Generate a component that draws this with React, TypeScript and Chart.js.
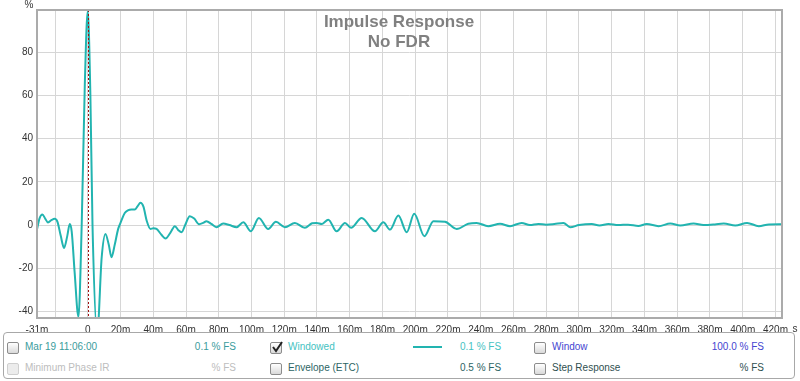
import React, { useEffect, useRef } from 'react';
import { Chart, registerables } from 'chart.js';

Chart.register(...registerables);

const FONT = '"Liberation Sans", Arial, sans-serif';
const LINE_COLOR = '#22b4b0';

const TITLE_LINES = ['Impulse Response', 'No FDR'];
const X_UNIT = 's';
const Y_UNIT = '%';

const TIMES_MS = [
  -31, -29.5, -27.7, -26, -24.3, -22, -20.2, -18.5, -16.5, -14.5, -12.5, -11, -9.8, -8, -5.7, -3.7, -1.8, 0,
  1.6, 2.9, 5.8, 8.5, 10.8, 12.8, 14.5, 16.5, 18.5, 20, 22.6, 24.5, 26.7, 28.7, 30.5, 32.2, 34, 36, 38.3, 40,
  42, 45, 47.5, 50.5, 53.2, 55.5, 57.3, 59.5, 62.3, 65, 68, 70.5, 72.5, 75.5, 78.6, 82.7, 86.5, 90.9, 95, 99.6,
  104.5, 110.2, 114.9, 120.4, 126.5, 132.6, 137, 139.8, 143, 146.9, 152, 157.1, 160.8, 167.3, 175.4, 180.5,
  184.6, 189.7, 194.8, 199.4, 205.6, 211.1, 218.2, 225.3, 232.4, 237.5, 244.6, 251.8, 257.9, 265, 270, 275.2,
  280, 285, 290.5, 294.6, 300, 307.8, 312.5, 318, 324, 330, 336.3, 341.4, 348.6, 355.8, 361.9, 370, 376, 383,
  388.4, 395.5, 402.7, 409.8, 416, 424,
];
const IMPULSE_PCT = [
  -2, 3, 4.9, 3, 1.2, 2.4, 2.9, 1.5, -5, -10.6, -5, 0.5, -3, -22, -42.5, 0, 65, 99,
  60, 0, -50, -15, -4.1, -9, -14.9, -9, -2, 1, 5.6, 6.8, 7.2, 7.2, 8.8, 10.3, 8.5, 2, -1.8, -1.5,
  -1.8, -4.5, -6.2, -3.5, -0.5, -2.5, -3.3, 0, 4.1, 3, 0.4, 1, 1.8, 0.5, -1, 0.7, 0, -1, 1.3, -2.9,
  3.3, -1.8, 1.5, -1, 1, -1.3, 0.8, 1, 0.5, 2.5, -2.9, 1, -1.3, 3.3, -2.9, 1.3,
  -2.1, 4.4, -3.3, 5.2, -5.2, 1.8, 1.5, -1.8, 0.6, 1, -0.5, 0.6, -0.5, 1, 0, 0.5,
  0.2, 0.5, 1, -1, 0, 0.5, -0.2, 0.5, 0, 0.2, -0.4, 0.5, -0.5, 0.7, -0.2, 0.7, 0, 0.3,
  0.7, -0.2, 1, -0.5, 0.3, 0.4,
];

const X_MIN = -31;
const X_MAX = 424;
const Y_MIN = -43;
const Y_MAX = 99.5;
const X_TICKS = [-31, -20, 0, 20, 40, 60, 80, 100, 120, 140, 160, 180, 200, 220, 240, 260, 280, 300, 320, 340, 360, 380, 400, 420];
const Y_TICKS = [-40, -20, 0, 20, 40, 60, 80];

const xLabel = (v: number) => (v === -20 ? '' : v === 0 ? '0' : `${v}m`);

const decor = {
  id: 'decor',
  afterDatasetsDraw(chart: any) {
    const { ctx, chartArea: a, scales } = chart;
    const x0 = scales.x.getPixelForValue(0);
    ctx.save();
    ctx.strokeStyle = '#a01010';
    ctx.lineWidth = 1;
    ctx.setLineDash([2, 2]);
    ctx.beginPath();
    ctx.moveTo(Math.round(x0) + 0.5, a.top);
    ctx.lineTo(Math.round(x0) + 0.5, a.bottom);
    ctx.stroke();
    ctx.setLineDash([]);
    ctx.strokeStyle = '#ababab';
    ctx.lineWidth = 2;
    ctx.strokeRect(a.left, a.top, a.right - a.left, a.bottom - a.top);
    ctx.fillStyle = '#808080';
    ctx.font = `bold 17px ${FONT}`;
    ctx.textAlign = 'center';
    ctx.textBaseline = 'alphabetic';
    ctx.fillText(TITLE_LINES[0], 399, 27);
    ctx.fillText(TITLE_LINES[1], 399, 46.5);
    ctx.fillStyle = '#333';
    ctx.font = `10px ${FONT}`;
    ctx.fillText(Y_UNIT, 29, 7.5);
    ctx.textBaseline = 'middle';
    ctx.fillText(X_UNIT, 795, 329.5);
    ctx.restore();
  },
};

const Box = ({ x, y, checked, disabled }: { x: number; y: number; checked?: boolean; disabled?: boolean }) => (
  <span
    style={{
      position: 'absolute', left: x, top: y, width: 10, height: 10,
      border: `1px solid ${disabled ? '#cfcfcf' : '#8c8c8c'}`, borderRadius: 2,
      background: disabled ? '#ececec' : 'linear-gradient(#ffffff, #d9d9d9)',
    }}
  >
    {checked ? (
      <svg width="12" height="12" style={{ position: 'absolute', left: 0, top: -2 }}>
        <path d="M2 6 L5 10 L11 1" stroke="#222" strokeWidth="2" fill="none" />
      </svg>
    ) : null}
  </span>
);

const Txt = ({ x, right, y, color, children }: any) => (
  <div
    style={{
      position: 'absolute', top: y, left: x, right: right !== undefined ? 800 - right : undefined,
      font: `10px ${FONT}`, lineHeight: '12px', color, whiteSpace: 'nowrap',
    }}
  >
    {children}
  </div>
);

export default function App() {
  const ref = useRef<HTMLCanvasElement>(null);
  useEffect(() => {
    document.body.style.margin = '0';
    const chart = new Chart(ref.current as HTMLCanvasElement, {
      type: 'line',
      data: {
        datasets: [
          {
            data: TIMES_MS.map((t, i) => ({ x: t, y: IMPULSE_PCT[i] })),
            borderColor: LINE_COLOR,
            borderWidth: 2,
            pointRadius: 0,
            cubicInterpolationMode: 'monotone',
            fill: false,
          } as any,
        ],
      },
      options: {
        responsive: false,
        animation: false,
        devicePixelRatio: 1,
        layout: { padding: { left: 0, right: 18, top: 10, bottom: 0 } },
        plugins: { legend: { display: false }, tooltip: { enabled: false }, title: { display: false } },
        scales: {
          x: {
            type: 'linear', min: X_MIN, max: X_MAX,
            afterBuildTicks: (ax: any) => { ax.ticks = X_TICKS.map((v) => ({ value: v })); },
            afterFit: (s: any) => { s.height = 20; },
            grid: { color: '#d6d6d6', drawTicks: false },
            border: { display: false },
            ticks: {
              autoSkip: false, maxRotation: 0, padding: 6, color: '#333',
              font: { family: FONT, size: 10 },
              callback: (v: any) => xLabel(Number(v)),
            },
          },
          y: {
            type: 'linear', min: Y_MIN, max: Y_MAX,
            afterBuildTicks: (ax: any) => { ax.ticks = Y_TICKS.map((v) => ({ value: v })); },
            afterFit: (s: any) => { s.width = 37; },
            grid: { color: '#d6d6d6', drawTicks: false },
            border: { display: false },
            ticks: { padding: 4, color: '#333', font: { family: FONT, size: 10 }, callback: (v: any) => String(v) },
          },
        },
      } as any,
      plugins: [decor],
    });
    return () => chart.destroy();
  }, []);

  return (
    <div style={{ position: 'fixed', left: 0, top: 0, width: 800, height: 381, background: '#fff', overflow: 'hidden' }}>
      <canvas ref={ref} width={800} height={338} style={{ position: 'absolute', left: 0, top: 0, width: 800, height: 338 }} />
      <div
        style={{
          position: 'absolute', left: 3, top: 332, width: 790, height: 45,
          border: '1px solid #a8a8a8', borderRadius: 4, background: '#fff',
        }}
      />
      <Box x={7} y={342} />
      <Txt x={25} y={341} color="#3a9c9c">Mar 19 11:06:00</Txt>
      <Txt right={236} y={341} color="#3a9c9c">0.1 % FS</Txt>
      <Box x={270} y={342} checked />
      <Txt x={288} y={341} color="#45c2c2">Windowed</Txt>
      <div style={{ position: 'absolute', left: 413, top: 346, width: 29, height: 2, background: LINE_COLOR }} />
      <Txt x={460} y={341} color="#45c2c2">0.1 % FS</Txt>
      <Box x={534} y={342} />
      <Txt x={552} y={341} color="#4545d0">Window</Txt>
      <Txt right={764} y={341} color="#4545d0">100.0 % FS</Txt>

      <Box x={7} y={363} disabled />
      <Txt x={25} y={362} color="#bdbdbd">Minimum Phase IR</Txt>
      <Txt right={236} y={362} color="#bdbdbd">% FS</Txt>
      <Box x={270} y={363} />
      <Txt x={288} y={362} color="#2d6464">Envelope (ETC)</Txt>
      <Txt x={460} y={362} color="#2d6464">0.5 % FS</Txt>
      <Box x={534} y={363} />
      <Txt x={552} y={362} color="#2f4f4f">Step Response</Txt>
      <Txt right={764} y={362} color="#2f4f4f">% FS</Txt>
    </div>
  );
}
